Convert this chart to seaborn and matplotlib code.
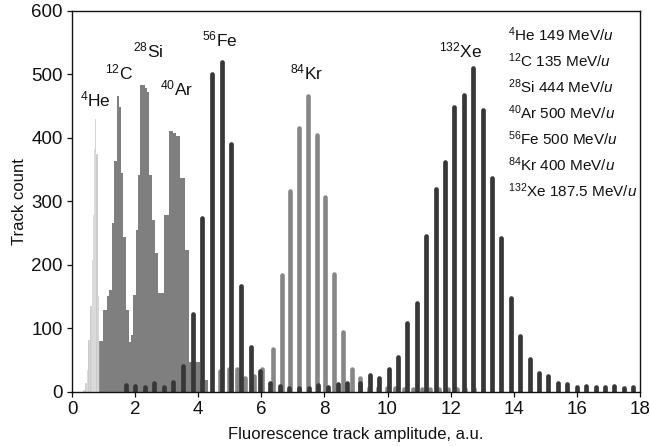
import numpy as np
import pandas as pd
import matplotlib
matplotlib.use("Agg")
import matplotlib.pyplot as plt
import seaborn as sns

# --- fine-binned amplitude histograms (bin edges and counts) ---
he_edges = [0.36, 0.42, 0.47, 0.52, 0.57, 0.62, 0.665, 0.705, 0.74, 0.77, 0.82, 0.87]
he_counts = [3, 13, 34, 81, 135, 207, 278, 383, 429, 374, 150]

c_edges = [0.87, 0.98, 1.10, 1.18, 1.26, 1.34, 1.42, 1.49, 1.56, 1.63, 1.71, 1.79, 1.87]
c_counts = [80, 128, 150, 160, 266, 364, 465, 449, 344, 243, 129, 79]

si_edges = [1.87, 1.92, 2.03, 2.10, 2.16, 2.31, 2.39, 2.45, 2.53, 2.63, 2.72, 2.92]
si_counts = [90, 152, 255, 341, 483, 479, 472, 341, 270, 218, 156]

ar_edges = [2.92, 3.08, 3.21, 3.30, 3.42, 3.58, 3.72, 3.93, 4.06, 4.30]
ar_counts = [278, 411, 407, 402, 337, 223, 47, 47, 18]

# --- coarse-binned amplitude histograms (bin centres and counts) ---
kr_x = [4.69, 4.96, 5.22, 5.49, 5.76, 6.03, 6.36, 6.65, 6.91, 7.19, 7.47, 7.76,
        8.03, 8.31, 8.59, 8.86, 9.14, 9.42, 9.70, 9.97, 10.25, 10.53, 10.81,
        11.09, 11.36, 11.64, 11.92, 12.20, 12.47, 12.75, 13.03]
kr_counts = [32, 36, 35, 22, 25, 35, 67, 184, 316, 416, 466, 404,
             306, 186, 94, 35, 22, 6, 6, 6, 6, 5, 5,
             5, 5, 5, 5, 5, 5, 4, 4]

fe_x = [1.70, 2.01, 2.31, 2.61, 2.92, 3.21, 3.52, 3.82, 4.13, 4.44, 4.74, 5.05,
        5.36, 5.66, 5.97, 6.28, 6.59, 6.89, 7.20, 7.50, 7.81, 8.11, 8.42, 8.72]
fe_counts = [10, 9, 8, 13, 7, 16, 40, 122, 274, 500, 520, 390,
             166, 71, 33, 13, 9, 6, 6, 6, 10, 8, 12, 14]

xe_x = [9.13, 9.43, 9.73, 10.03, 10.32, 10.62, 10.92, 11.22, 11.52, 11.82,
        12.12, 12.41, 12.71, 13.01, 13.31, 13.61, 13.91, 14.21, 14.51, 14.80,
        15.10, 15.40, 15.70, 16.00, 16.30, 16.60, 16.89, 17.19, 17.49, 17.79]
xe_counts = [13, 26, 21, 36, 55, 108, 139, 245, 319, 361,
             449, 467, 509, 444, 336, 242, 148, 87, 51, 29,
             25, 14, 12, 7, 9, 7, 7, 9, 6, 8]

# --- peak labels and beam list ---
peak_labels = [r"$^{4}$He", r"$^{12}$C", r"$^{28}$Si", r"$^{40}$Ar",
               r"$^{56}$Fe", r"$^{84}$Kr", r"$^{132}$Xe"]
peak_label_x = [0.74, 1.48, 2.40, 3.30, 4.69, 7.42, 12.33]
peak_label_y = [461, 503, 538, 477, 555, 502, 538]

beam_lines = [r"$^{4}$He 149 MeV/$u$", r"$^{12}$C 135 MeV/$u$",
              r"$^{28}$Si 444 MeV/$u$", r"$^{40}$Ar 500 MeV/$u$",
              r"$^{56}$Fe 500 MeV/$u$", r"$^{84}$Kr 400 MeV/$u$",
              r"$^{132}$Xe 187.5 MeV/$u$"]

x_ticks = list(range(0, 19, 2))
y_ticks = list(range(0, 601, 100))

LIGHT = "#c4c4c4"
MID = "#7f7f7f"
KR = "#868686"
DARK = "#373737"

sns.set_style("ticks")
plt.rcParams["font.family"] = ["Liberation Sans", "DejaVu Sans"]
plt.rcParams["mathtext.fontset"] = "custom"
plt.rcParams["mathtext.rm"] = "Liberation Sans"
plt.rcParams["mathtext.it"] = "Liberation Sans:italic"
plt.rcParams["mathtext.bf"] = "Liberation Sans:bold"

fig = plt.figure(figsize=(6.5, 4.46), dpi=100)
ax = fig.add_axes([0.1108, 0.1217, 0.8738, 0.8543])


def centres(edges):
    e = np.asarray(edges)
    return (e[:-1] + e[1:]) / 2


# fine histograms (C, Si, Ar in mid grey, He in light grey on top)
for edges, counts, col in [(c_edges, c_counts, MID),
                           (si_edges, si_counts, MID),
                           (ar_edges, ar_counts, MID)]:
    df = pd.DataFrame({"amp": centres(edges), "n": counts})
    sns.histplot(data=df, x="amp", weights="n", bins=edges, ax=ax,
                 color=col, alpha=1, edgecolor="none", linewidth=0)

df_he = pd.DataFrame({"amp": centres(he_edges), "n": he_counts})
sns.histplot(data=df_he, x="amp", weights="n", bins=he_edges, ax=ax,
             color=LIGHT, alpha=1, edgecolor="white", linewidth=0.2)

# coarse histograms drawn as round-ended bars
ax.vlines(kr_x, 0, kr_counts, colors=KR, linewidth=3.3, capstyle="round")
ax.vlines(fe_x, 0, fe_counts, colors=DARK, linewidth=3.4, capstyle="round")
ax.vlines(xe_x, 0, xe_counts, colors=DARK, linewidth=3.4, capstyle="round")

for lab, lx, ly in zip(peak_labels, peak_label_x, peak_label_y):
    ax.text(lx, ly, lab, ha="center", va="center", fontsize=12.5, color="#111111")

for i, line in enumerate(beam_lines):
    ax.text(13.82, 563 - 41.2 * i, line, ha="left", va="center",
            fontsize=11, color="#111111")

ax.set_xlim(0, 18)
ax.set_ylim(0, 600)
ax.set_xticks(x_ticks)
ax.set_yticks(y_ticks)
ax.tick_params(direction="out", length=3.5, width=0.9, labelsize=13.5,
               colors="#111111", pad=3)
for sp in ax.spines.values():
    sp.set_visible(True)
    sp.set_color("#111111")
    sp.set_linewidth(1.0)
ax.set_xlabel("Fluorescence track amplitude, a.u.", fontsize=12, color="#111111", labelpad=7)
ax.set_ylabel("Track count", fontsize=12, color="#111111", labelpad=3)

fig.savefig("out.png", dpi=100)
